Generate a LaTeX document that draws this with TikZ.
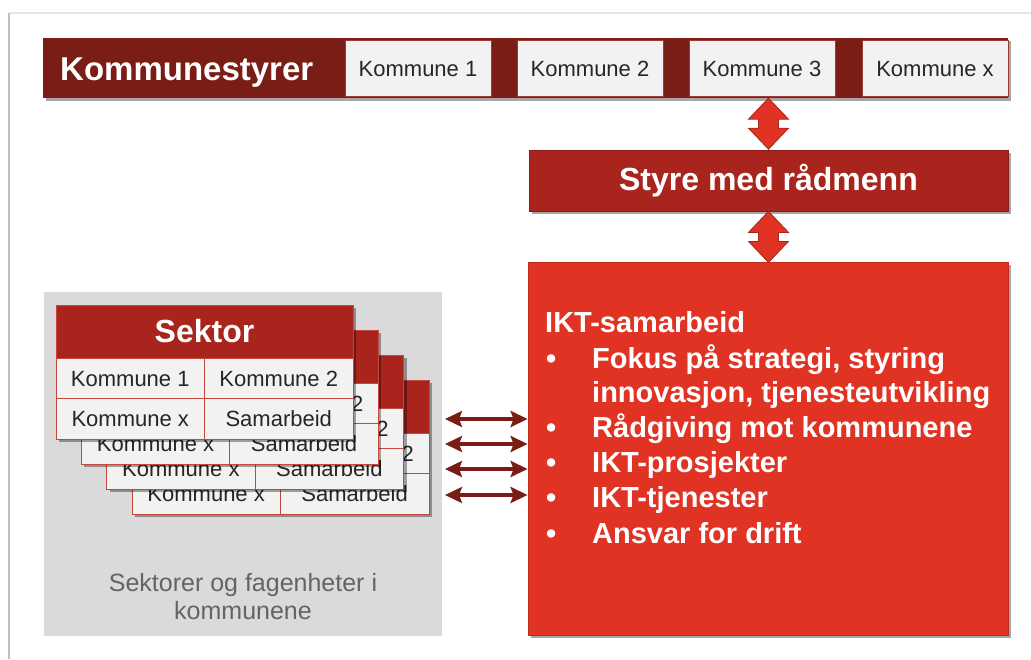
\documentclass[tikz,border=0pt]{standalone}
\usepackage{fontspec}
\setmainfont{Liberation Sans}
\usetikzlibrary{positioning,shadows,arrows.meta,calc}
\definecolor{morkrod}{RGB}{122,29,22}
\definecolor{mellomrod}{RGB}{168,36,28}
\definecolor{lysrod}{RGB}{224,51,36}
\definecolor{panelgraa}{RGB}{218,218,218}
\definecolor{cellefarge}{RGB}{242,242,242}
\definecolor{kantrod}{RGB}{196,72,62}
\definecolor{tekstgraa}{RGB}{100,100,100}
\begin{document}
\begin{tikzpicture}[x=1pt,y=-1pt,
		skygge/.style={drop shadow={shadow xshift=3pt,shadow yshift=-3pt,opacity=0.35,fill=black}},
		kboks/.style={draw=kantrod!80!black,line width=0.8pt,fill=cellefarge,minimum width=146pt,minimum height=56pt,inner sep=0pt,text height=15.8pt,text depth=0pt,font=\fontsize{22}{26}\selectfont,text=black!85},
		kort/.style={anchor=north west,fill=cellefarge,draw=kantrod,line width=0.8pt,minimum width=297pt,minimum height=134pt,inner sep=0pt,outer sep=0pt,skygge},
		korthode/.style={anchor=north west,fill=mellomrod,draw=kantrod,line width=0.8pt,minimum width=297pt,minimum height=53pt,inner sep=0pt,outer sep=0pt,text=white,font=\fontsize{32}{36}\selectfont\bfseries},
		celle/.style={anchor=north west,fill=cellefarge,draw=kantrod,line width=0.8pt,minimum width=148.5pt,minimum height=40.5pt,inner sep=0pt,outer sep=0pt,text height=15.8pt,text depth=0pt,font=\fontsize{22}{26}\selectfont,text=black!85},
		ikttekst/.style={anchor=base west,inner sep=0pt,text=white,font=\fontsize{29}{35}\selectfont\bfseries},
		hpil/.style={draw=morkrod,line width=4pt,{Stealth[length=17pt,width=16pt,inset=3pt]}-{Stealth[length=17pt,width=16pt,inset=3pt]}},
		dobbelpil/.pic={
			\path[fill=lysrod,draw=mellomrod,line width=0.8pt,line join=miter]
				(0,0) -- (20,21) -- (10,21) -- (10,30) -- (20,30) -- (0,51)
				-- (-20,30) -- (-10,30) -- (-10,21) -- (-20,21) -- cycle;
		}]
	\useasboundingbox (0,0) rectangle (1031,659);
	% ramme
	\draw[black!10,line width=2pt] (1031,13) -- (9,13);
	\draw[black!25,line width=2pt] (9,13) -- (9,659);
	% kommunestyrer
	\node[fill=morkrod,minimum width=965pt,minimum height=60pt,inner sep=0pt,skygge] (bar) at (525.5,68) {};
	\node[anchor=base west,inner sep=0pt,text=white,font=\fontsize{33}{38}\selectfont\bfseries] (tittel) at (60,80) {Kommunestyrer};
	\foreach \n/\x in {1/418,2/590,3/762,x/935}
		\node[kboks] (kom\n) at (\x,68.5) {Kommune \n};
	% styre og ikt
	\node[fill=mellomrod,draw=mellomrod!80!black,line width=0.8pt,minimum width=479pt,minimum height=61pt,inner sep=0pt,text=white,font=\fontsize{32}{36}\selectfont\bfseries,skygge] (styre) at (768.5,180.5) {Styre med rådmenn};
	\node[fill=lysrod,draw=lysrod!85!black,line width=0.8pt,minimum width=480pt,minimum height=373pt,inner sep=0pt,skygge] (ikt) at (768,448.5) {};
	\pic at (styre.north |- bar.south) {dobbelpil};
	\pic at (styre.south) {dobbelpil};
	\node[ikttekst] (ikt0) at (545,332) {IKT-samarbeid};
	\foreach \y/\t [count=\k] in {368/{Fokus på strategi, styring},437/{Rådgiving mot kommunene},472/{IKT-prosjekter},507/{IKT-tjenester},543/{Ansvar for drift}}{
		\node[ikttekst] (punkt\k) at (546,\y) {•};
		\node[ikttekst] (linje\k) at (592,\y) {\t};
	}
	\node[ikttekst] (linje1b) at (592,402) {innovasjon, tjenesteutvikling};
	% sektorer
	\node[fill=panelgraa,minimum width=398pt,minimum height=344pt,inner sep=0pt] (panel) at (243,464) {};
	\node[align=center,text=tekstgraa,font=\fontsize{25}{28}\selectfont] (paneltekst) at (243,597) {Sektorer og fagenheter i\\kommunene};
	\foreach \i in {3,2,1,0}{
		\pgfmathsetmacro{\kx}{56+25.3*\i}
		\pgfmathsetmacro{\ky}{305+25*\i}
		\node[kort] (kort\i) at (\kx,\ky) {};
		\node[korthode] (hode\i) at (kort\i.north west) {Sektor};
		\node[celle] (ka\i) at (hode\i.south west) {Kommune 1};
		\node[celle] (kb\i) at (ka\i.north east) {Kommune 2};
		\node[celle] (kc\i) at (ka\i.south west) {Kommune x};
		\node[celle] (kd\i) at (kc\i.north east) {Samarbeid};
	}
	% piler
	\foreach \i/\y in {1/419,2/444,3/469,4/495}{
		\coordinate (pv\i) at (445,\y);
		\draw[hpil] (pv\i) -- (pv\i -| ikt.west);
	}
\end{tikzpicture}
\end{document}
